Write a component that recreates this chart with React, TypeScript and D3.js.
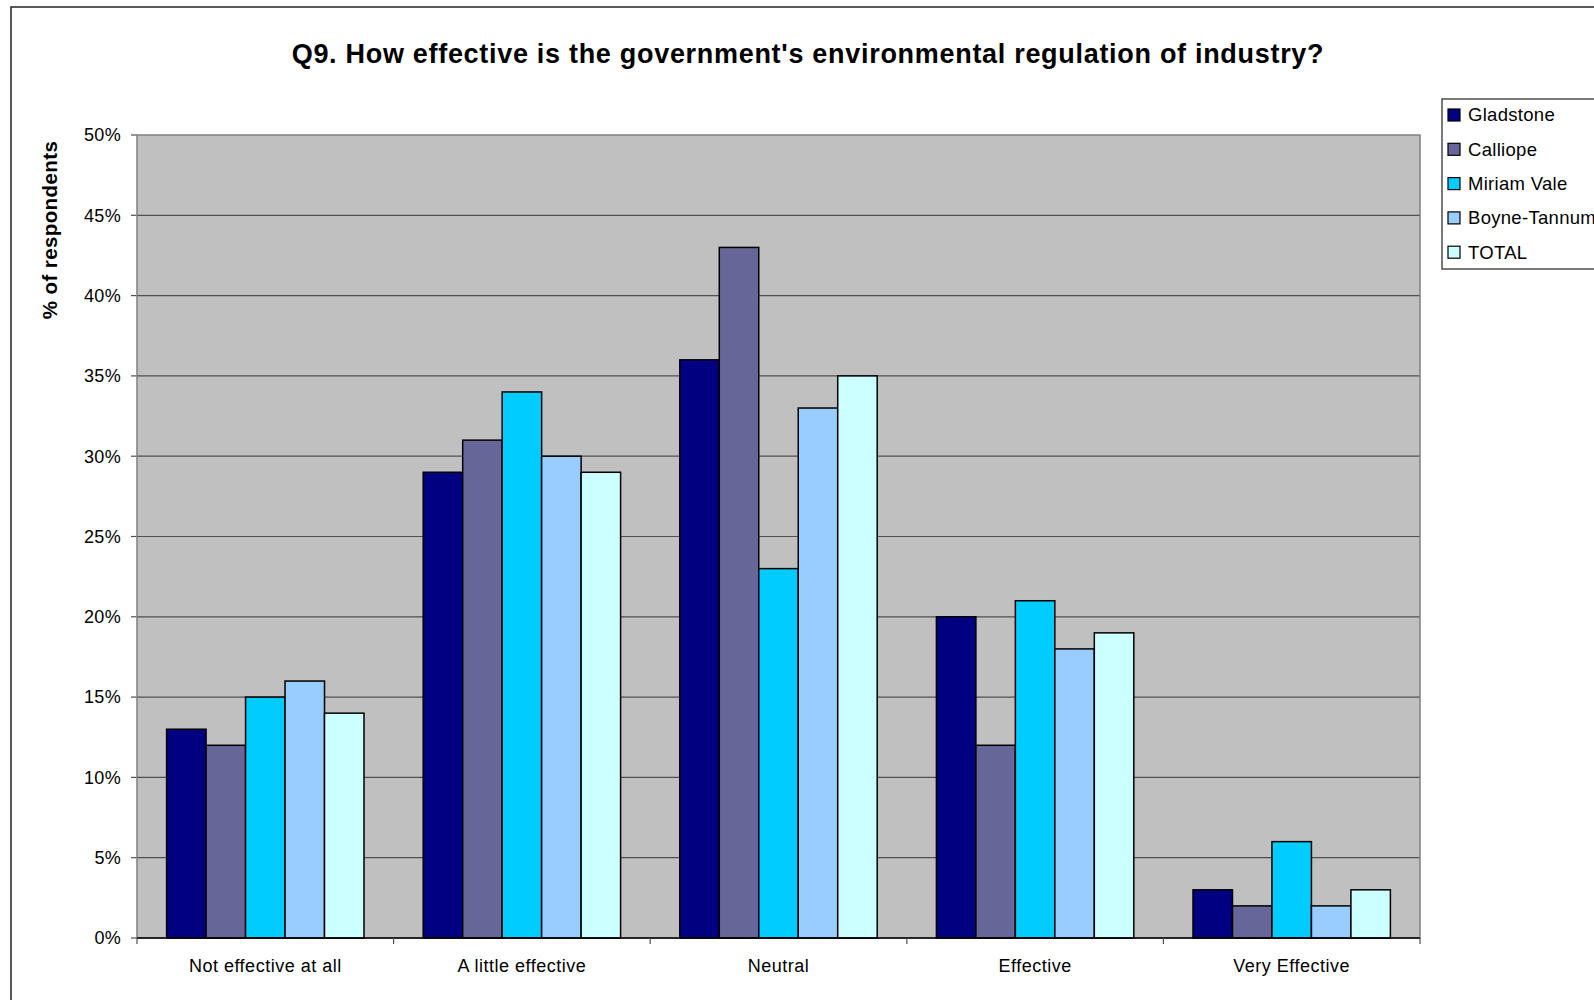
import React from "react";
import * as d3 from "d3";

const categories = ["Not effective at all", "A little effective", "Neutral", "Effective", "Very Effective"];
const seriesNames = ["Gladstone", "Calliope", "Miriam Vale", "Boyne-Tannum", "TOTAL"];
const seriesColors = ["#000080", "#666699", "#00CCFF", "#99CCFF", "#CCFFFF"];
const gladstone = [13, 29, 36, 20, 3];
const calliope = [12, 31, 43, 12, 2];
const miriamVale = [15, 34, 23, 21, 6];
const boyneTannum = [16, 30, 33, 18, 2];
const total = [14, 29, 35, 19, 3];
const yTicks = [0, 5, 10, 15, 20, 25, 30, 35, 40, 45, 50];
const title = "Q9. How effective is the government's environmental regulation of industry?";
const yLabel = "% of respondents";

const seriesValues = [gladstone, calliope, miriamVale, boyneTannum, total];

export default function App() {
  const W = 1594, H = 1000;
  const left = 137, right = 1420, top = 135, bottom = 938;
  const font = "'Liberation Sans', Arial, sans-serif";

  const x0 = d3.scaleBand<string>().domain(categories).range([left, right]).paddingInner(0).paddingOuter(0);
  const bw = x0.bandwidth();
  const groupPad = 1.5 / 6.5; // Excel gap width 150%
  const x1 = d3.scaleBand<string>().domain(seriesNames).range([bw * groupPad / 2, bw - bw * groupPad / 2]).padding(0);
  const y = d3.scaleLinear().domain([0, 50]).range([bottom, top]);

  return (
    <svg width={W} height={H} style={{ position: "absolute", left: 0, top: 0, display: "block" }} fontFamily={font}>
      <rect x={0} y={0} width={W} height={H} fill="#ffffff" />
      <rect x={11} y={7} width={1700} height={1100} fill="none" stroke="#222" strokeWidth={1.5} />
      <text x={808} y={63} textAnchor="middle" fontWeight="bold" fontSize={27} letterSpacing={0.7} fill="#000">{title}</text>

      <rect x={left} y={top} width={right - left} height={bottom - top} fill="#C0C0C0" />
      {yTicks.map((t) => (
        <g key={t}>
          {t > 0 && t < 50 && <line x1={left} x2={right} y1={y(t)} y2={y(t)} stroke="#505050" strokeWidth={1.2} />}
          <line x1={left - 6} x2={left} y1={y(t)} y2={y(t)} stroke="#505050" strokeWidth={1.2} />
          <text x={121} y={y(t)} dy="0.35em" textAnchor="end" fontSize={18} letterSpacing={0.3} fill="#000">{t}%</text>
        </g>
      ))}
      <rect x={left} y={top} width={right - left} height={bottom - top} fill="none" stroke="#808080" strokeWidth={1.5} />

      {categories.map((c, ci) => (
        <g key={c} transform={`translate(${x0(c)},0)`}>
          {seriesNames.map((s, si) => {
            const v = seriesValues[si][ci];
            return (
              <rect key={s} x={x1(s)} y={y(v)} width={x1.bandwidth()} height={y(0) - y(v)}
                fill={seriesColors[si]} stroke="#000" strokeWidth={1.5} />
            );
          })}
        </g>
      ))}

      <line x1={left} x2={right} y1={bottom} y2={bottom} stroke="#000" strokeWidth={1.5} />
      {[...categories.map((c) => x0(c)!), right].map((xv, i) => (
        <line key={i} x1={xv} x2={xv} y1={bottom} y2={bottom + 6} stroke="#505050" strokeWidth={1.2} />
      ))}
      {categories.map((c) => (
        <text key={c} x={x0(c)! + bw / 2} y={966} dy="0.35em" textAnchor="middle" fontSize={18} letterSpacing={0.5} fill="#000">{c}</text>
      ))}

      <text transform={`translate(50,230) rotate(-90)`} textAnchor="middle" dy="0.35em" fontWeight="bold" fontSize={20.5} letterSpacing={0.4} fill="#000">{yLabel}</text>

      <rect x={1442} y={99} width={300} height={170} fill="#ffffff" stroke="#222" strokeWidth={1.2} />
      {seriesNames.map((s, i) => (
        <g key={s}>
          <rect x={1448} y={115 + i * 34.3 - 6} width={12} height={12} fill={seriesColors[i]} stroke="#000" strokeWidth={1.2} />
          <text x={1468} y={115 + i * 34.3} dy="0.35em" fontSize={18.5} letterSpacing={0.3} fill="#000">{s}</text>
        </g>
      ))}
    </svg>
  );
}
